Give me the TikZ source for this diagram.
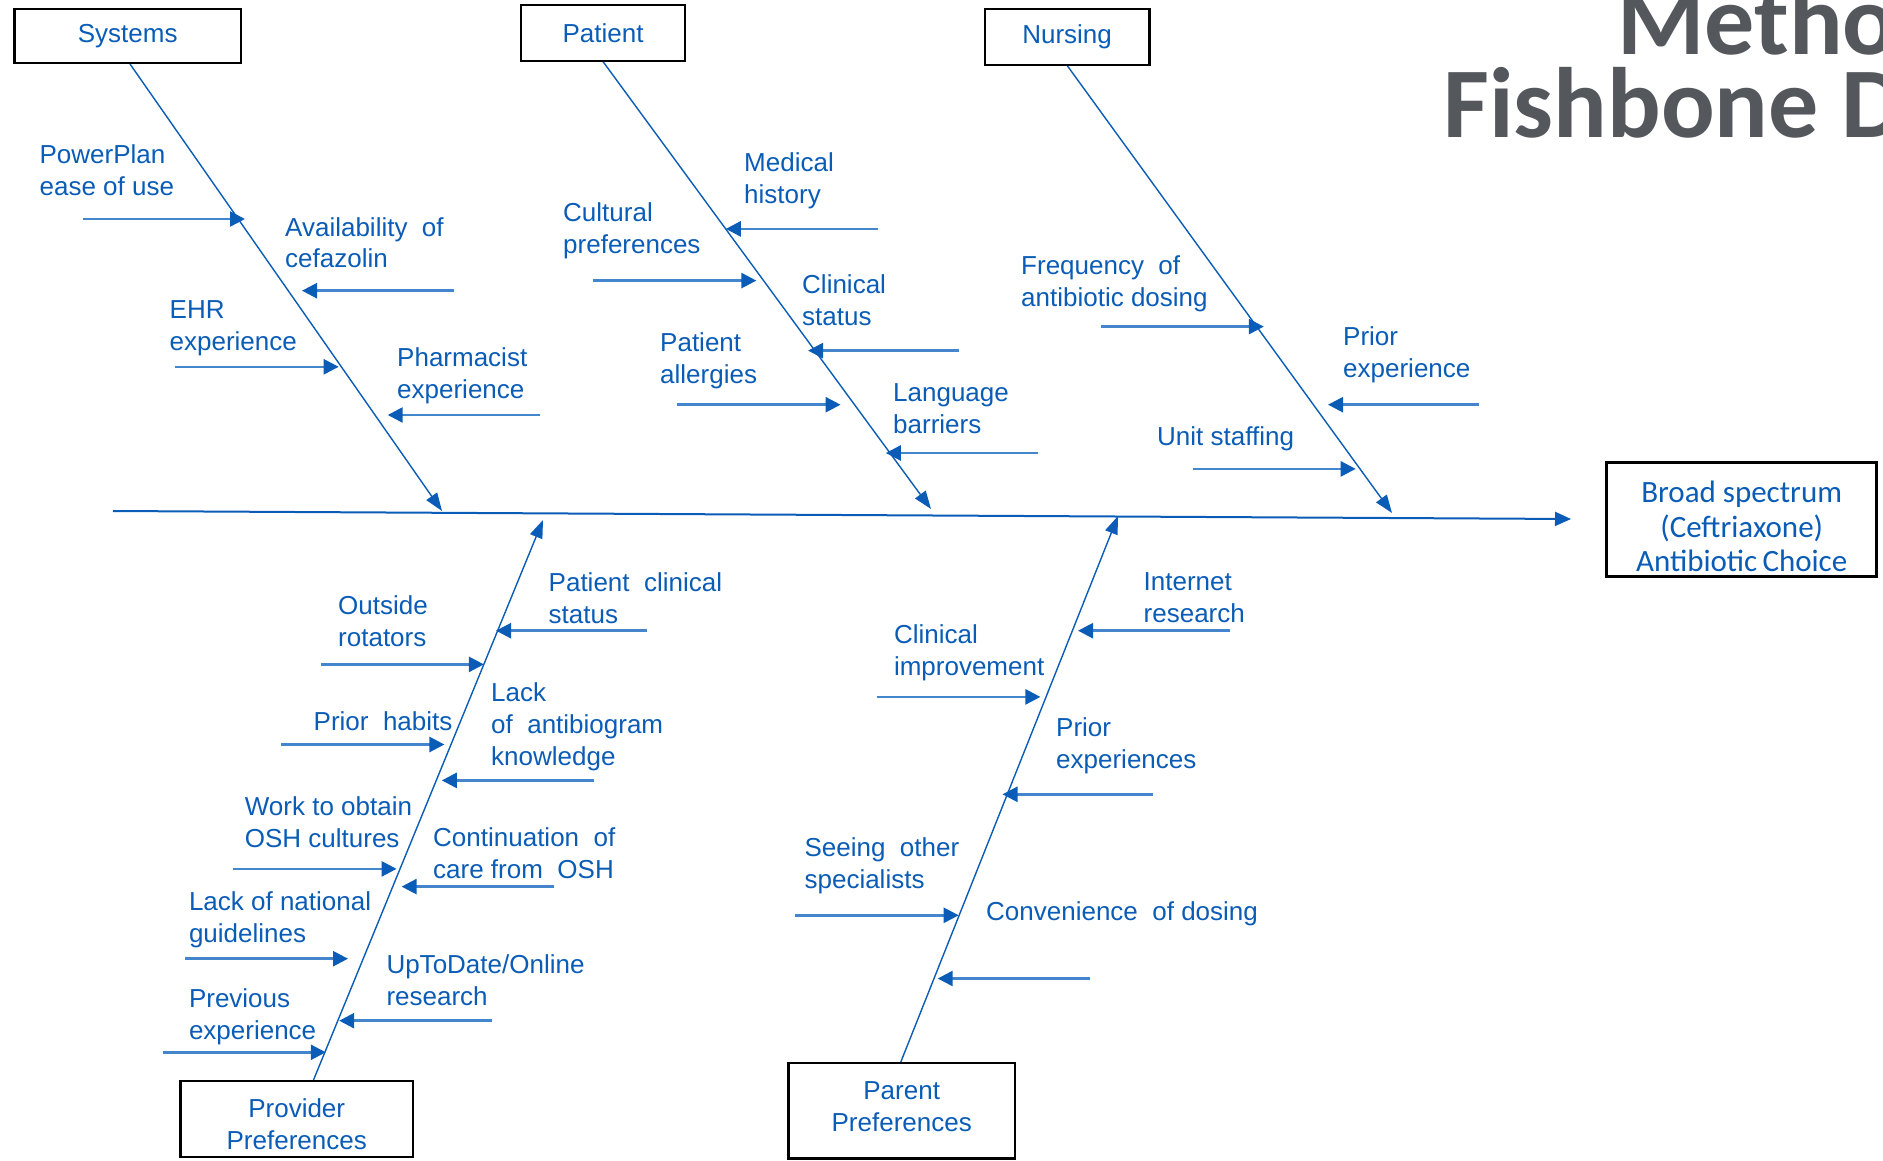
\documentclass[tikz,border=0pt]{standalone}
\usepackage{fontspec}
\setmainfont{Liberation Sans}
\newfontfamily\calib{Carlito}
\usetikzlibrary{arrows.meta}
\definecolor{tblue}{RGB}{10,92,182}
\definecolor{lblue}{RGB}{68,134,206}
\definecolor{ttl}{RGB}{84,87,92}
\begin{document}
\begin{tikzpicture}[x=1pt,y=-1pt,
 lbl/.style={anchor=base west, inner sep=0pt, align=left, text=tblue, font=\fontsize{26}{32}\selectfont},
 cat/.style={draw=black, line width=2.5pt, text=tblue, font=\fontsize{26}{32}\selectfont, align=center, inner sep=0pt},
 cattxt/.style={inner sep=0pt, text=tblue, font=\fontsize{26}{32}\selectfont, align=center},
 feed/.style={draw=lblue, line width=2.5pt, -{Triangle[length=15pt,width=15pt,color=tblue]}},
 bone/.style={draw=tblue, line width=1.4pt, -{Triangle[length=18pt,width=13pt]}},
 spine/.style={draw=tblue, line width=2pt, -{Triangle[length=16pt,width=14pt]}},
 ttlstyle/.style={anchor=base west, inner sep=0pt, text=ttl, font=\calib\bfseries\fontsize{100}{100}\selectfont}]
\useasboundingbox (0,0) rectangle (1883,1161);
\begin{scope}
\clip (0,0) rectangle (1883,1161);
\node[ttlstyle, text depth=0pt] (t1) at (1617,55) {Metho};
\node[ttlstyle, text height=68pt] (t2) at (1443,138) {Fishbone D};
\end{scope}

% category boxes
\node[cat, minimum width=226.5pt, minimum height=54pt] (sys) at (127.7,35.9) {Systems};
\node[cat, minimum width=164pt, minimum height=56pt] (pat) at (603.1,32.8) {Patient};
\node[cat, minimum width=164.6pt, minimum height=56pt] (nur) at (1067.1,36.8) {Nursing};
\node[draw=black, line width=2.5pt, minimum width=232.6pt, minimum height=75.8pt] (prov) at (296.7,1118.9) {};
\node[cattxt] (provtxt) at ([yshift=-5pt]prov.center) {Provider\\Preferences};
\node[draw=black, line width=2.5pt, minimum width=226.2pt, minimum height=95.7pt] (par) at (901.7,1110.6) {};
\node[cattxt] (partxt) at ([yshift=4pt]par.center) {Parent\\Preferences};
\node[draw=black, line width=2.5pt, minimum width=270pt, minimum height=114pt] (goal) at (1741.7,519.7) {};
\node[align=center, inner sep=0pt, text=tblue, font=\calib\fontsize{31}{34.5}\selectfont] (goaltxt) at ([yshift=-7pt]goal.center) {Broad spectrum\\(Ceftriaxone)\\Antibiotic\,Choice};

% spine
\coordinate (sp0) at (113,511);
\coordinate (sp1) at (1571,519);
\draw[spine] (sp0) -- (sp1);

% bones
\coordinate (sysb) at (130,64);
\coordinate (syst) at (442,511);
\draw[bone] (sysb) -- (syst);
\coordinate (patb) at (603.3,62);
\coordinate (patt) at (931,509);
\draw[bone] (patb) -- (patt);
\coordinate (nurb) at (1067.5,66);
\coordinate (nurt) at (1392,513);
\draw[bone] (nurb) -- (nurt);
\coordinate (provb) at (313.5,1080);
\coordinate (provt) at (543,520);
\draw[bone] (provb) -- (provt);
\coordinate (parb) at (900.8,1062);
\coordinate (part) at (1118,516);
\draw[bone] (parb) -- (part);

% Systems feeds
\coordinate (s1a) at (83,219);     \coordinate (s1b) at (245,219);
\coordinate (s2a) at (453.5,290.7); \coordinate (s2b) at (302,290.7);
\coordinate (s3a) at (175,366.8);  \coordinate (s3b) at (338.7,366.8);
\coordinate (s4a) at (539.6,415);  \coordinate (s4b) at (387.7,415);
\foreach \i in {s1,s2,s3,s4} \draw[feed] (\i a) -- (\i b);
\node[lbl] (ls1) at (39.4,195.5) {PowerPlan\\ease of use};
\node[lbl] (ls2) at (285,268) {Availability\ \ of\\cefazolin};
\node[lbl] (ls3) at (169.5,350.5) {EHR\\experience};
\node[lbl] (ls4) at (397,398) {Pharmacist\\experience};

% Patient feeds
\coordinate (p1a) at (877.7,228.9); \coordinate (p1b) at (725.8,228.9);
\coordinate (p2a) at (593,280.6);   \coordinate (p2b) at (756.4,280.6);
\coordinate (p3a) at (959.2,350.6); \coordinate (p3b) at (808,350.6);
\coordinate (p4a) at (677.2,404.7); \coordinate (p4b) at (840.6,404.7);
\coordinate (p5a) at (1037.7,453);  \coordinate (p5b) at (885.8,453);
\foreach \i in {p1,p2,p3,p4,p5} \draw[feed] (\i a) -- (\i b);
\node[lbl] (lp1) at (744,204) {Medical\\history};
\node[lbl] (lp2) at (563,254) {Cultural\\preferences};
\node[lbl] (lp3) at (802,325.5) {Clinical\\status};
\node[lbl] (lp4) at (660,383.5) {Patient\\allergies};
\node[lbl] (lp5) at (893,433.5) {Language\\barriers};

% Nursing feeds
\coordinate (n1a) at (1101,326.6);   \coordinate (n1b) at (1263.8,326.6);
\coordinate (n2a) at (1479.3,404.7); \coordinate (n2b) at (1328,404.7);
\coordinate (n3a) at (1193,468.9);   \coordinate (n3b) at (1355.7,468.9);
\foreach \i in {n1,n2,n3} \draw[feed] (\i a) -- (\i b);
\node[lbl] (ln1) at (1021,306) {Frequency\ \ of\\antibiotic dosing};
\node[lbl] (ln2) at (1343,377) {Prior\\experience};
\node[lbl] (ln3) at (1157,445.6) {Unit staffing};

% Provider feeds
\coordinate (v1a) at (647.3,630.7);  \coordinate (v1b) at (496,630.7);
\coordinate (v2a) at (321.2,664.4);  \coordinate (v2b) at (483.9,664.4);
\coordinate (v3a) at (593.7,780.4);  \coordinate (v3b) at (441.8,780.4);
\coordinate (v4a) at (281,744.5);    \coordinate (v4b) at (444.4,744.5);
\coordinate (v5a) at (233.2,868.9);  \coordinate (v5b) at (396.6,868.9);
\coordinate (v6a) at (553.5,886.6);  \coordinate (v6b) at (401.6,886.6);
\coordinate (v7a) at (185,958.7);    \coordinate (v7b) at (348,958.7);
\coordinate (v8a) at (491.5,1020.7); \coordinate (v8b) at (339.2,1020.7);
\coordinate (v9a) at (163.1,1052.3); \coordinate (v9b) at (325.8,1052.3);
\foreach \i in {v1,v2,v3,v4,v5,v6,v7,v8,v9} \draw[feed] (\i a) -- (\i b);
\node[lbl] (lv1) at (548.5,623.7) {Patient\ \ clinical\\status};
\node[lbl] (lv2) at (338,646) {Outside\\rotators};
\node[lbl] (lv3) at (491,765.3) {Lack\\of\ \ antibiogram\\knowledge};
\node[lbl] (lv4) at (313.5,730.8) {Prior\ \ habits};
\node[lbl] (lv5) at (244.7,847) {Work to obtain\\OSH cultures};
\node[lbl] (lv6) at (433,878.8) {Continuation\ \ of\\care from\ \ OSH};
\node[lbl] (lv7) at (188.8,942.8) {Lack of national\\guidelines};
\node[lbl] (lv8) at (386.3,1005.2) {UpToDate/Online\\research};
\node[lbl] (lv9) at (188.8,1039) {Previous\\experience};

% Parent feeds
\coordinate (r1a) at (1229.5,630.7); \coordinate (r1b) at (1078,630.7);
\coordinate (r2a) at (877,696.9);    \coordinate (r2b) at (1040.4,696.9);
\coordinate (r3a) at (1153.4,794.3); \coordinate (r3b) at (1002.5,794.3);
\coordinate (r4a) at (794.9,915.3);  \coordinate (r4b) at (958.7,915.3);
\coordinate (r5a) at (1089.5,978.5); \coordinate (r5b) at (937.7,978.5);
\foreach \i in {r1,r2,r3,r4,r5} \draw[feed] (\i a) -- (\i b);
\node[lbl] (lr1) at (1143.5,622.9) {Internet\\research};
\node[lbl] (lr2) at (893.8,675.5) {Clinical\\improvement};
\node[lbl] (lr3) at (1056,768) {Prior\\experiences};
\node[lbl] (lr4) at (804.4,888.5) {Seeing\ \ other\\specialists};
\node[lbl] (lr5) at (986,920.5) {Convenience\ \ of dosing};
\end{tikzpicture}
\end{document}
